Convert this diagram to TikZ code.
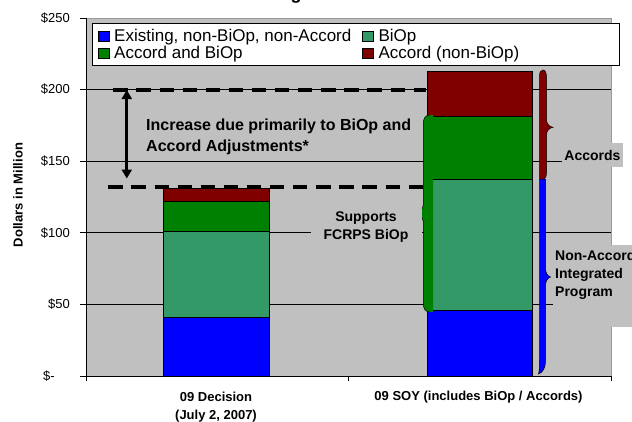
\documentclass[tikz,border=0pt]{standalone}
\usepackage{fontspec}
\setmainfont{Liberation Sans}
\usetikzlibrary{arrows.meta}
\definecolor{plotgray}{HTML}{C0C0C0}
\definecolor{exblue}{HTML}{0000FF}
\definecolor{biopteal}{HTML}{339966}
\definecolor{accgreen}{HTML}{008000}
\definecolor{accred}{HTML}{800000}
\definecolor{bordergray}{HTML}{999999}
\begin{document}
\begin{tikzpicture}[x=1pt,y=-1pt,
  gridln/.style={draw=black,line width=0.7pt},
  axisln/.style={draw=black,line width=0.8pt},
  barseg/.style={draw=black,line width=0.7pt},
  ticklab/.style={font=\fontsize{13}{13}\selectfont,anchor=east,inner sep=0pt},
  catlab/.style={font=\bfseries\fontsize{13}{15}\selectfont,inner sep=0pt},
  legtext/.style={font=\fontsize{17}{17}\selectfont,anchor=base west,inner sep=0pt},
  legsq/.style={draw=black,line width=0.6pt},
  inctext/.style={font=\bfseries\fontsize{16}{16}\selectfont,anchor=base west,inner sep=0pt},
  callout/.style={fill=plotgray,font=\bfseries\fontsize{14}{18.2}\selectfont,inner sep=0pt},
  dashln/.style={draw=black,line width=4pt,dash pattern=on 14.3pt off 8.8pt},
  bracefill/.style={draw=black,line width=0.5pt}
]
\useasboundingbox (0,0) rectangle (632,421);
\fill[white] (0,0) rectangle (632,421);

% clipped title fragment
\begin{scope}
\clip (0,0) rectangle (632,421);
\node[font=\bfseries\fontsize{18}{18}\selectfont,anchor=base,inner sep=0pt] (title) at (296,-1) {g};
\end{scope}

% plot area
\draw[fill=plotgray,draw=bordergray,line width=0.8pt] (86,18) rectangle (611,376);

% gridlines
\foreach \yy in {89.6,161.2,232.8,304.4} {
  \draw[gridln] (86,\yy) -- (611,\yy);
}

% bars: 09 Decision
\draw[barseg,fill=exblue]   (163,376)   rectangle (269,317.3);
\draw[barseg,fill=biopteal] (163,317.3) rectangle (269,231.4);
\draw[barseg,fill=accgreen] (163,231.4) rectangle (269,201.3);
\draw[barseg,fill=accred]   (163,201.3) rectangle (269,188.4);

% bars: 09 SOY
\draw[barseg,fill=exblue]   (427,376)   rectangle (532,310.1);
\draw[barseg,fill=biopteal] (427,310.1) rectangle (532,179.2);
\draw[barseg,fill=accgreen] (427,179.2) rectangle (532,116);
\draw[barseg,fill=accred]   (427,116)   rectangle (532,71);

% axes
\draw[axisln] (86,18) -- (86,376) -- (611,376);
\foreach \yy in {18,89.6,161.2,232.8,304.4,376} {
  \draw[axisln] (80,\yy) -- (86,\yy);
}
\foreach \xx in {86,348.5,611} {
  \draw[axisln] (\xx,376) -- (\xx,381);
}

% tick labels
\node[ticklab] (t250) at (70,18) {\$250};
\node[ticklab] (t200) at (70,89.6) {\$200};
\node[ticklab] (t150) at (70,161.2) {\$150};
\node[ticklab] (t100) at (70,232.8) {\$100};
\node[ticklab] (t50)  at (70,304.4) {\$50};
\node[ticklab] (t0)   at (55,376) {\$-};

% axis title
\node[font=\bfseries\fontsize{13}{13}\selectfont,rotate=90,inner sep=0pt] (ytitle) at (18,195) {Dollars in Million};

% category labels
\node[catlab] (cat1a) at (216,396.7) {09 Decision};
\node[catlab] (cat1b) at (216,416) {(July 2, 2007)};
\node[catlab] (cat2)  at (478.5,396.7) {09 SOY (includes BiOp / Accords)};

% dashed reference lines
\coordinate (d1a) at (113.3,89.6);
\coordinate (d1b) at (426,89.6);
\coordinate (d2a) at (108.3,186.8);
\coordinate (d2b) at (428,186.8);
\draw[dashln] (d1a) -- (d1b);
\draw[dashln] (d2a) -- (d2b);

% double arrow
\coordinate (arrtop) at (126.8,90);
\coordinate (arrbot) at (126.8,178.5);
\draw[line width=3pt,{Triangle[width=10pt,length=9pt]}-{Triangle[width=10pt,length=9pt]}] (arrtop) -- (arrbot);

% increase text
\node[inctext] (inc1) at (146,130.7) {Increase due primarily to BiOp and};
\node[inctext] (inc2) at (146,151.5) {Accord Adjustments*};

% legend
\draw[fill=white,draw=black,line width=0.8pt] (92,23) rectangle (619,65);
\draw[legsq,fill=exblue]   (98.7,31.7) rectangle (109.3,41.7);
\draw[legsq,fill=accgreen] (98.7,48.3) rectangle (109.3,58.3);
\draw[legsq,fill=biopteal] (362.7,31.7) rectangle (373.3,41.7);
\draw[legsq,fill=accred]   (362.7,48.3) rectangle (373.3,58.3);
\node[legtext] (lg1) at (114,41.6) {Existing, non-BiOp, non-Accord};
\node[legtext] (lg2) at (114,58.2) {Accord and BiOp};
\node[legtext] (lg3) at (378.3,41.6) {BiOp};
\node[legtext] (lg4) at (378.3,58.2) {Accord (non-BiOp)};

% green brace (left pointing)
\fill[accgreen] (433,115) -- (433,312) -- (430,312) .. controls (425.5,312) and (423.3,309) .. (423.3,303) -- (423.3,222) .. controls (423.3,217) and (419,214) .. (414,213.3) .. controls (419,212.6) and (423.3,209.5) .. (423.3,204.5) -- (423.3,124) .. controls (423.3,118) and (425.5,115) .. (430,115) -- cycle;
\draw[line width=0.5pt] (430,312) .. controls (425.5,312) and (423.3,309) .. (423.3,303) -- (423.3,222) .. controls (423.3,217) and (419,214) .. (414,213.3) .. controls (419,212.6) and (423.3,209.5) .. (423.3,204.5) -- (423.3,124) .. controls (423.3,118) and (425.5,115) .. (430,115);

% red brace (right pointing)
\draw[bracefill,fill=accred] (539.5,179) -- (539.5,76) .. controls (539.5,72) and (541,70) .. (543,70) .. controls (545.5,70) and (546.5,73) .. (546.5,78) -- (546.5,119) .. controls (546.5,124) and (549,126.5) .. (553,127.3) .. controls (549,128) and (546.5,130.5) .. (546.5,135.5) -- (546.5,172) .. controls (546.5,176) and (545.5,178.5) .. (544,179) -- cycle;

% blue brace (right pointing)
\draw[bracefill,fill=exblue] (539.5,179) -- (545.5,179) -- (545.5,268) .. controls (545.5,273) and (547.5,276) .. (550.5,277) .. controls (547.5,278) and (545.5,281) .. (545.5,286) -- (545.5,360) .. controls (545.5,368) and (543,372.5) .. (538.5,374) .. controls (539.3,371) and (539.5,367) .. (539.5,360) -- cycle;

% callouts
\node[callout,minimum width=111pt,minimum height=40pt,align=center] (supp) at (366,227.3) {Supports\\FCRPS BiOp};
\node[callout,minimum width=61pt,minimum height=24pt] (acc) at (592.5,155) {Accords};
\fill[plotgray] (552.7,245) rectangle (640,327);
\node[callout,align=left,anchor=west,fill=none] (nonacc) at (555,275.2) {Non-Accord\\Integrated\\Program};
\end{tikzpicture}
\end{document}
